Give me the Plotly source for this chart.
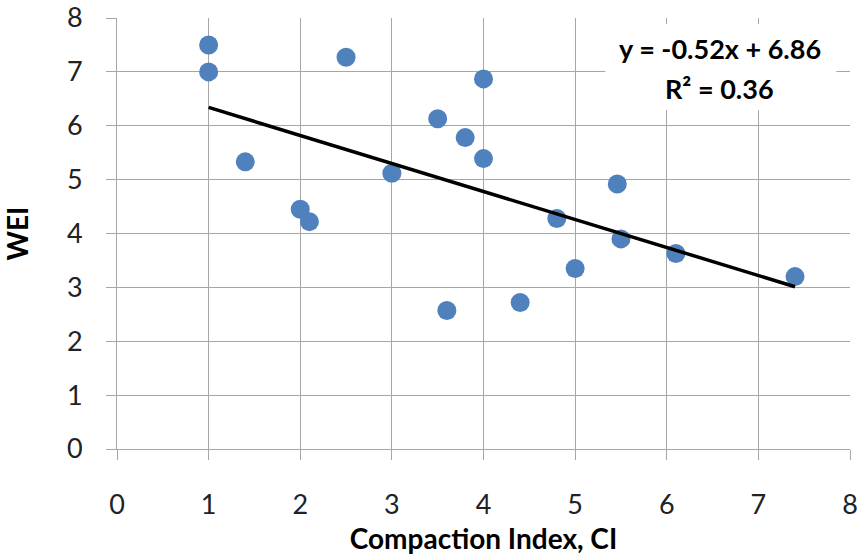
import plotly.graph_objects as go
import numpy as np

ci = [1.0, 1.0, 1.4, 2.0, 2.1, 2.5, 3.0, 3.5, 3.6, 3.8, 4.0, 4.0, 4.4, 4.8, 5.0, 5.46, 5.5, 6.1, 7.4]
wei = [7.5, 7.0, 5.33, 4.45, 4.22, 7.27, 5.12, 6.13, 2.57, 5.78, 6.87, 5.39, 2.72, 4.28, 3.35, 4.92, 3.9, 3.63, 3.2]
slope = -0.52
intercept = 6.86
r2 = 0.36

x_line = np.array([min(ci), max(ci)])
y_line = slope * x_line + intercept

font = "Lato, 'Open Sans', sans-serif"

fig = go.Figure()
fig.add_trace(go.Scatter(x=ci, y=wei, mode="markers",
                         marker=dict(size=19, color="#4F81BD"), showlegend=False))
fig.add_trace(go.Scatter(x=x_line, y=y_line, mode="lines",
                         line=dict(color="black", width=3.5), showlegend=False))

# white box behind the trendline label
fig.add_shape(type="rect", xref="x", yref="y", x0=5.33, x1=7.85, y0=6.29, y1=7.89,
              fillcolor="white", line=dict(width=0), layer="above")
fig.add_annotation(x=6.58, y=7.425, xref="x", yref="y",
                   text=f"<b>y = {slope:.2f}x + {intercept:.2f}</b>",
                   showarrow=False, font=dict(family=font, size=27, color="black"))
fig.add_annotation(x=6.58, y=6.70, xref="x", yref="y",
                   text=f"<b>R² = {r2:.2f}</b>",
                   showarrow=False, font=dict(family=font, size=27, color="black"))

fig.update_xaxes(range=[0, 8], dtick=1, showgrid=True, gridcolor="#a6a6a6", gridwidth=1,
                 showline=True, linecolor="#a6a6a6", ticks="outside", ticklen=10,
                 tickcolor="#a6a6a6", zeroline=False, automargin=False,
                 ticklabelstandoff=22, ticklabeloverflow="allow",
                 tickfont=dict(family=font, size=27, color="#222"),
                 title=dict(text="<b>Compaction Index, CI</b>", font=dict(family=font, size=28, color="black"), standoff=9))
fig.update_yaxes(range=[0, 8], dtick=1, showgrid=True, gridcolor="#a6a6a6", gridwidth=1,
                 showline=True, linecolor="#a6a6a6", ticks="outside", ticklen=10,
                 tickcolor="#a6a6a6", zeroline=False, automargin=False,
                 ticklabelstandoff=18, ticklabeloverflow="allow",
                 tickfont=dict(family=font, size=27, color="#222"),
                 title=dict(text="<b>WEI</b>", font=dict(family=font, size=28, color="black"), standoff=31))

fig.update_layout(width=860, height=556, margin=dict(l=117, r=10, t=18, b=107),
                  plot_bgcolor="white", paper_bgcolor="white")
fig.write_html("out.html", config={"displayModeBar": False},
               post_script="document.body.style.margin='0';document.body.style.overflow='hidden';")
